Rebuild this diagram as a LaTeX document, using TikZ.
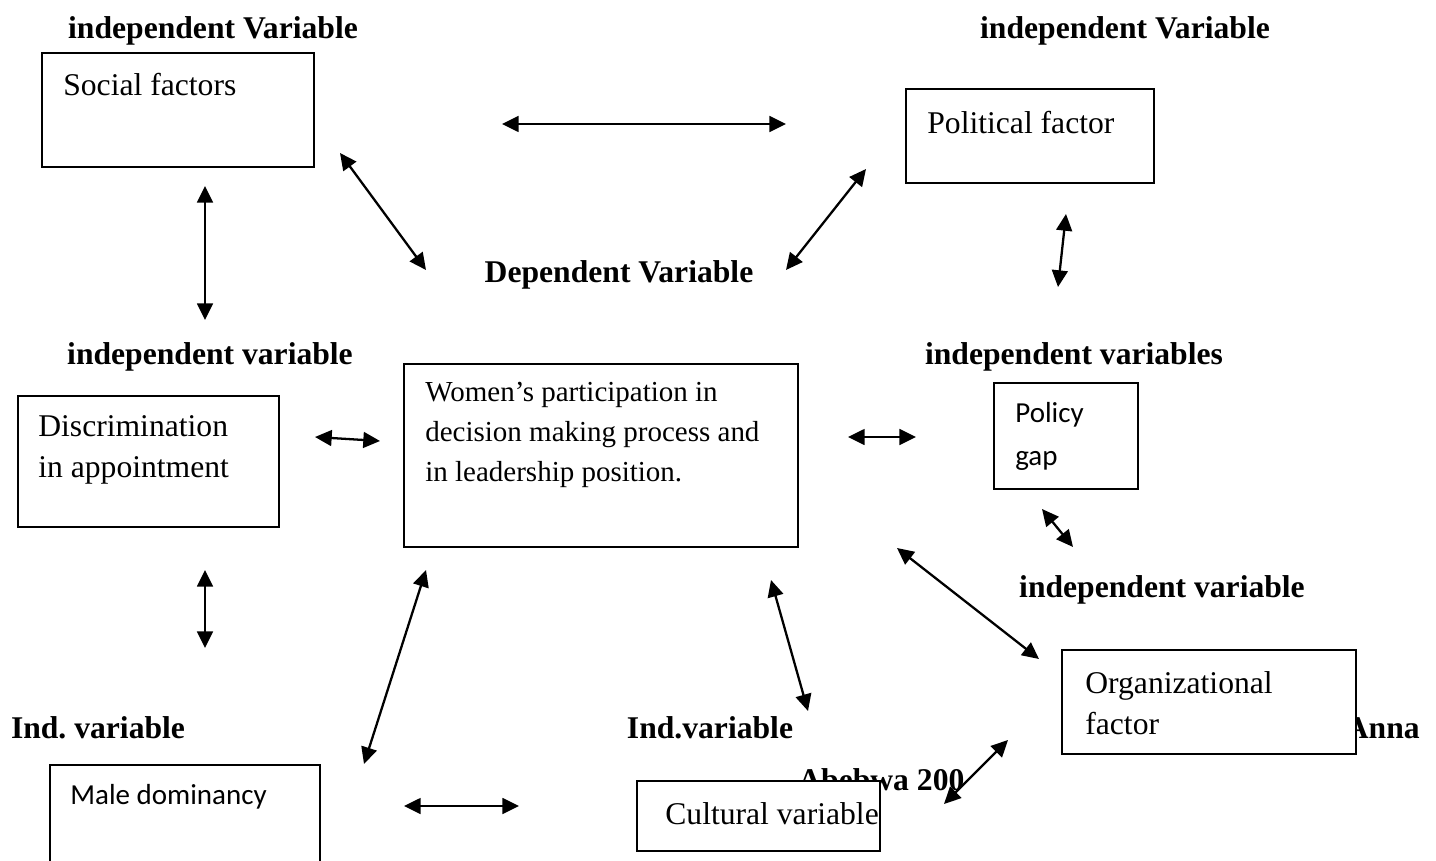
\documentclass[tikz,border=0pt]{standalone}
\usepackage{fontspec}
\setmainfont{Liberation Serif}
\newfontfamily\calibri{Carlito}
\usetikzlibrary{arrows.meta}

\begin{document}
\begin{tikzpicture}[x=0.02cm, y=-0.02cm,
        box/.style={draw, line width=1.1pt, fill=white, inner sep=0pt},
        lbl/.style={font=\fontsize{18}{22}\selectfont\bfseries, inner sep=0pt},
        txt/.style={font=\fontsize{18}{23.5}\selectfont, inner sep=0pt, anchor=west, align=left},
        link/.style={{Triangle[length=9.5pt,width=9pt]}-{Triangle[length=9.5pt,width=9pt]}, line width=1.3pt}
    ]
      \useasboundingbox (0,0) rectangle (1436,861);

      % Variable labels
      \node[lbl] (lbltl) at (213,31) {independent Variable};
      \node[lbl] (lbltr) at (1125,31) {independent Variable};
      \node[lbl] (dep) at (619,275) {Dependent Variable};
      \node[lbl] (lblml) at (210,357) {independent variable};
      \node[lbl] (lblmr) at (1074,357) {independent variables};
      \node[lbl] (lbllr) at (1162,590) {independent variable};
      \node[lbl] (indl) at (98,728) {Ind.\ variable};
      \node[lbl] (indc) at (710,728) {Ind.variable};
      \node[lbl, anchor=east] (anna) at (1420,728) {Anna};
      \node[lbl, anchor=west] (abebwa) at (798,780) {Abebwa 200};

      % Boxes
      \node[box, minimum width=5.44cm, minimum height=2.28cm] (social) at (178,110) {};
      \node[box, minimum width=4.96cm, minimum height=1.88cm] (political) at (1030,136) {};
      \node[box, minimum width=5.22cm, minimum height=2.62cm] (discrim) at (148.5,461.5) {};
      \node[box, minimum width=7.88cm, minimum height=3.66cm] (women) at (601,455.5) {};
      \node[box, minimum width=2.88cm, minimum height=2.12cm] (policy) at (1066,436) {};
      \node[box, minimum width=5.88cm, minimum height=2.08cm] (org) at (1209,702) {};
      \node[box, minimum width=5.4cm, minimum height=2.1cm] (male) at (185,817.5) {};
      \node[box, minimum width=4.86cm, minimum height=1.4cm] (cultural) at (758.5,816) {};

      % Box texts
      \node[txt] (socialtxt) at (63,85) {Social factors};
      \node[txt] (politicaltxt) at (927,123) {Political factor};
      \node[txt] (discrimtxt) at (38,450) {Discrimination\\in appointment};
      \node[txt, font=\fontsize{16.5}{22.7}\selectfont] (womentxt) at (425,435)
        {Women’s participation in\\decision making process and\\in leadership position.};
      \node[txt, font=\fontsize{16.5}{24.4}\selectfont\calibri] (policytxt) at (1015,436) {Policy\\gap};
      \node[txt, font=\fontsize{18}{23.2}\selectfont] (orgtxt) at (1085,703.5) {Organizational\\factor};
      \node[txt, font=\fontsize{16.5}{20}\selectfont\calibri] (maletxt) at (70,797) {Male dominancy};
      \node[txt] (culturaltxt) at (665,814) {Cultural variable};

      % Arrow ends
      \coordinate (sp1) at (502,124);  \coordinate (sp2) at (786,124);
      \coordinate (sd1) at (340,153);  \coordinate (sd2) at (426,270);
      \coordinate (pd1) at (866,169);  \coordinate (pd2) at (786,270);
      \coordinate (sv1) at (205,186);  \coordinate (sv2) at (205,320);
      \coordinate (pv1) at (1066,214); \coordinate (pv2) at (1058,287);
      \coordinate (dw1) at (315,437);  \coordinate (dw2) at (380,441);
      \coordinate (wp1) at (848,437);  \coordinate (wp2) at (916,437);
      \coordinate (pg1) at (1042,509); \coordinate (pg2) at (1073,547);
      \coordinate (wo1) at (897,548);  \coordinate (wo2) at (1039,659);
      \coordinate (dv1) at (205,570);  \coordinate (dv2) at (205,648);
      \coordinate (mw1) at (426,570);  \coordinate (mw2) at (364,764);
      \coordinate (wc1) at (771,580);  \coordinate (wc2) at (808,711);
      \coordinate (mc1) at (404,806);  \coordinate (mc2) at (519,806);
      \coordinate (co1) at (944,804);  \coordinate (co2) at (1008,740);

      % Arrows
      \foreach \a/\b in {sp1/sp2, sd1/sd2, pd1/pd2, sv1/sv2, pv1/pv2, dw1/dw2, wp1/wp2,
                         pg1/pg2, wo1/wo2, dv1/dv2, mw1/mw2, wc1/wc2, mc1/mc2, co1/co2}
        \draw[link] (\a) -- (\b);
    \end{tikzpicture}
\end{document}
